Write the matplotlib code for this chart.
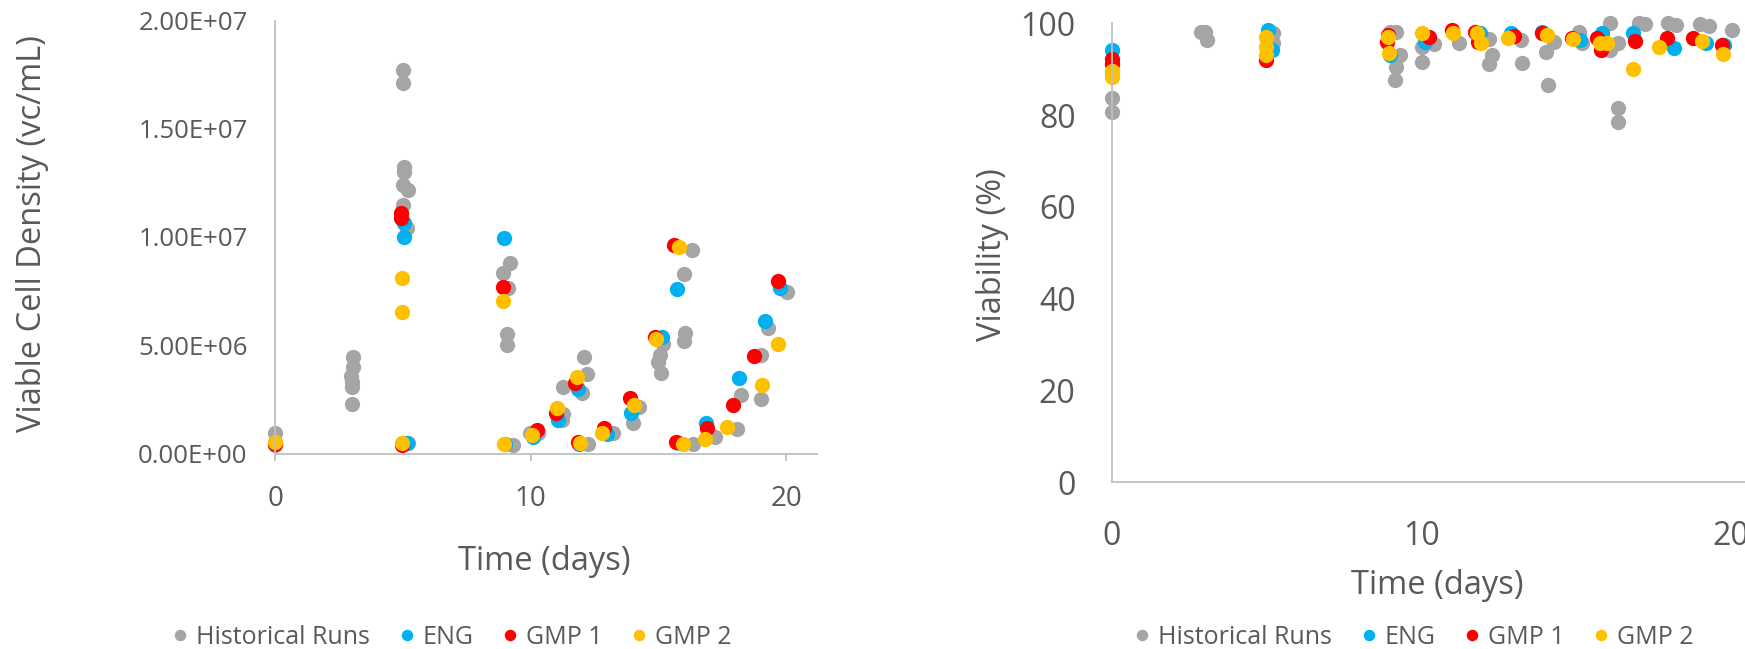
import matplotlib
matplotlib.use("Agg")
import matplotlib.pyplot as plt
from matplotlib.ticker import FuncFormatter

plt.rcParams['font.family'] = ['Open Sans', 'DejaVu Sans']

# ---- viable cell density (x = day, y = cells/mL in millions) ----
hist_vcd_day = [0, 0, 3.05, 3.05, 2.97, 3.0, 3.0, 3.0,
                4.99, 4.99, 5.05, 5.05, 5.0, 5.18, 4.99, 5.15, 5.2,
                9.19, 8.92, 9.1, 9.07, 9.07, 9.32, 9.97, 10.3,
                11.21, 11.27, 11.25, 12.0, 12.19, 12.1, 12.26,
                13.23, 14.25, 13.99, 15.19, 15.06, 15.0, 15.1,
                16.01, 16.04, 16.02, 16.31, 16.37,
                17.22, 18.09, 18.22, 19.0, 19.0, 19.3, 20.02]
hist_vcd = [0.93, 0.4, 4.47, 3.98, 3.58, 3.3, 3.09, 2.29,
            17.7, 17.1, 13.25, 13.0, 12.4, 12.17, 11.48, 10.4, 0.5,
            8.78, 8.35, 7.63, 5.5, 5.01, 0.39, 0.93, 0.93,
            1.55, 1.82, 3.09, 2.78, 3.66, 4.46, 0.45,
            0.93, 2.16, 1.42, 5.06, 4.55, 4.24, 3.73,
            8.29, 5.58, 5.21, 9.4, 0.45,
            0.75, 1.13, 2.7, 4.55, 2.52, 5.78, 7.47]

eng_vcd_day = [0, 5.05, 5.05, 5.14, 8.95, 9.0, 10.1, 11.08, 11.86, 11.9,
               13.0, 13.92, 15.13, 15.74, 15.8, 16.86, 18.17, 19.17, 19.76]
eng_vcd = [0.5, 10.66, 9.99, 0.47, 9.94, 0.42, 0.78, 1.55, 2.97, 0.45,
           0.9, 1.89, 5.38, 7.58, 0.5, 1.39, 3.47, 6.12, 7.63]

gmp1_vcd_day = [0, 4.94, 4.94, 4.97, 8.9, 10.23, 10.99, 11.73, 11.87, 12.87,
                13.89, 14.87, 15.62, 15.71, 16.89, 17.91, 18.76, 19.67]
gmp1_vcd = [0.45, 11.1, 10.86, 0.38, 7.7, 1.08, 1.86, 3.24, 0.55, 1.16,
            2.55, 5.4, 9.63, 0.55, 1.16, 2.24, 4.52, 7.97]

gmp2_vcd_day = [0, 4.95, 4.95, 4.97, 8.9, 8.97, 10.04, 11.04, 11.8, 11.93,
                12.8, 14.06, 14.9, 15.79, 15.98, 16.83, 17.67, 19.07, 19.7]
gmp2_vcd = [0.52, 8.12, 6.52, 0.5, 7.04, 0.44, 0.85, 2.09, 3.52, 0.5,
            0.93, 2.23, 5.29, 9.52, 0.44, 0.66, 1.21, 3.16, 5.04]

# ---- viability (%) ----
hist_via_day = [0, 0, 0, 0, 3.02, 3.07, 2.9, 5.2, 5.2,
                9.0, 9.2, 9.32, 9.2, 9.16, 10.02, 10.4, 10.02,
                11.23, 12.2, 12.28, 12.2, 13.23, 13.25,
                14.04, 14.3, 14.11, 15.1, 15.2,
                16.1, 16.36, 16.1, 16.37, 16.37,
                17.05, 17.25, 17.99, 18.25, 19.0, 19.3, 20.04]
hist_via = [91.3, 89.4, 83.7, 80.7, 98.2, 96.4, 98.0, 97.8, 95.6,
            98.1, 98.0, 93.1, 90.5, 87.6, 94.9, 95.5, 91.6,
            95.8, 96.6, 93.1, 91.2, 96.4, 91.4,
            93.8, 96.0, 86.6, 98.0, 95.6,
            100.0, 95.6, 94.2, 81.5, 78.6,
            100.0, 99.9, 100.0, 99.7, 99.9, 99.5, 98.5]

eng_via_day = [0, 5.06, 5.17, 9.0, 10.13, 11.9, 12.92, 13.9, 15.14, 15.85,
               16.86, 18.18, 19.2, 19.8]
eng_via = [94.2, 98.5, 94.2, 93.1, 96.0, 97.9, 97.8, 98.0, 96.4, 97.8,
           97.8, 94.7, 95.8, 95.3]

gmp1_via_day = [0, 0, 4.98, 8.94, 8.9, 10.27, 10.99, 11.74, 11.84, 13.0,
                13.9, 14.87, 15.67, 15.8, 16.91, 17.94, 18.78, 19.72]
gmp1_via = [92.2, 91.1, 92.0, 97.5, 96.0, 97.1, 98.5, 98.2, 96.0, 97.3,
            97.8, 96.9, 96.7, 94.2, 96.2, 96.7, 96.7, 95.3]

gmp2_via_day = [0, 0, 4.98, 4.98, 4.98, 8.92, 8.97, 10.02, 11.04, 11.8, 11.94,
                12.82, 14.06, 14.92, 15.78, 16.0, 16.84, 17.7, 19.07, 19.75]
gmp2_via = [89.5, 88.4, 97.1, 94.9, 93.1, 97.1, 93.6, 97.8, 97.8, 97.8, 95.6,
            96.7, 97.5, 96.5, 95.6, 95.6, 90.0, 94.9, 96.2, 93.3]

series_names = ['Historical Runs', 'ENG', 'GMP 1', 'GMP 2']
series_colors = ['#A5A5A5', '#00B0F0', '#FF0000', '#FFC000']

TXT = '#595959'
AXC = '#BFBFBF'
W, H = 1745, 649

fig = plt.figure(figsize=(W / 100, H / 100), dpi=100)

def px_rect(x0, y_top, w, h):
    return [x0 / W, (H - y_top - h) / H, w / W, h / H]

def style_axes(ax):
    for s in ['top', 'right']:
        ax.spines[s].set_visible(False)
    for s in ['left', 'bottom']:
        ax.spines[s].set_color(AXC)
        ax.spines[s].set_linewidth(1.3)
    ax.set_facecolor('none')

# left chart
ax1 = fig.add_axes(px_rect(275.3, 20.5, 541.4, 433))
style_axes(ax1)
vcd_sets = [(hist_vcd_day, hist_vcd), (eng_vcd_day, eng_vcd),
            (gmp1_vcd_day, gmp1_vcd), (gmp2_vcd_day, gmp2_vcd)]
for (xs, ys), name, c in zip(vcd_sets, series_names, series_colors):
    ax1.plot(xs, [v * 1e6 for v in ys], 'o', color=c, ms=11, mew=0,
             label=name, clip_on=False)
ax1.set_xlim(0, 21.2)
ax1.set_ylim(0, 2e7)
ax1.set_xticks([0, 10, 20])
ax1.set_yticks([0, 5e6, 1e7, 1.5e7, 2e7])
ax1.yaxis.set_major_formatter(FuncFormatter(lambda v, p: '%.2E' % v))
ax1.tick_params(axis='y', length=0, pad=20, labelsize=18.5, labelcolor=TXT)
ax1.tick_params(axis='x', length=5, width=1.3, color=AXC, pad=18,
                labelsize=20, labelcolor=TXT)

# right chart
ax2 = fig.add_axes(px_rect(1111.7, 23.3, 656, 459))
style_axes(ax2)
via_sets = [(hist_via_day, hist_via), (eng_via_day, eng_via),
            (gmp1_via_day, gmp1_via), (gmp2_via_day, gmp2_via)]
for (xs, ys), name, c in zip(via_sets, series_names, series_colors):
    ax2.plot(xs, ys, 'o', color=c, ms=11, mew=0, label=name, clip_on=False)
ax2.set_xlim(0, 21.2)
ax2.set_ylim(0, 100)
ax2.set_xticks([0, 10, 20])
ax2.set_yticks([0, 20, 40, 60, 80, 100])
ax2.tick_params(axis='y', length=0, pad=26, labelsize=23, labelcolor=TXT)
ax2.tick_params(axis='x', length=0, pad=27, labelsize=23, labelcolor=TXT)

# axis titles
fig.text(33 / W, 1 - 234 / H, 'Viable Cell Density (vc/mL)', rotation=90,
         ha='center', va='center', fontsize=23.5, color=TXT)
fig.text(544 / W, 1 - 562 / H, 'Time (days)', ha='center', va='center',
         fontsize=23.5, color=TXT)
fig.text(992 / W, 1 - 255 / H, 'Viability (%)', rotation=90,
         ha='center', va='center', fontsize=23.5, color=TXT)
fig.text(1437 / W, 1 - 585 / H, 'Time (days)', ha='center', va='center',
         fontsize=23.5, color=TXT)

# legends
for ax, cx in [(ax1, 453), (ax2, 1415)]:
    handles, labels = ax.get_legend_handles_labels()
    leg = fig.legend(handles, labels, loc='center', ncol=4,
                     bbox_to_anchor=(cx / W, 1 - 637 / H), frameon=False,
                     fontsize=18, handlelength=0.5, handletextpad=0.4,
                     columnspacing=1.2, markerscale=0.75, borderaxespad=0)
    for t in leg.get_texts():
        t.set_color(TXT)

fig.savefig('out.png', dpi=100)
